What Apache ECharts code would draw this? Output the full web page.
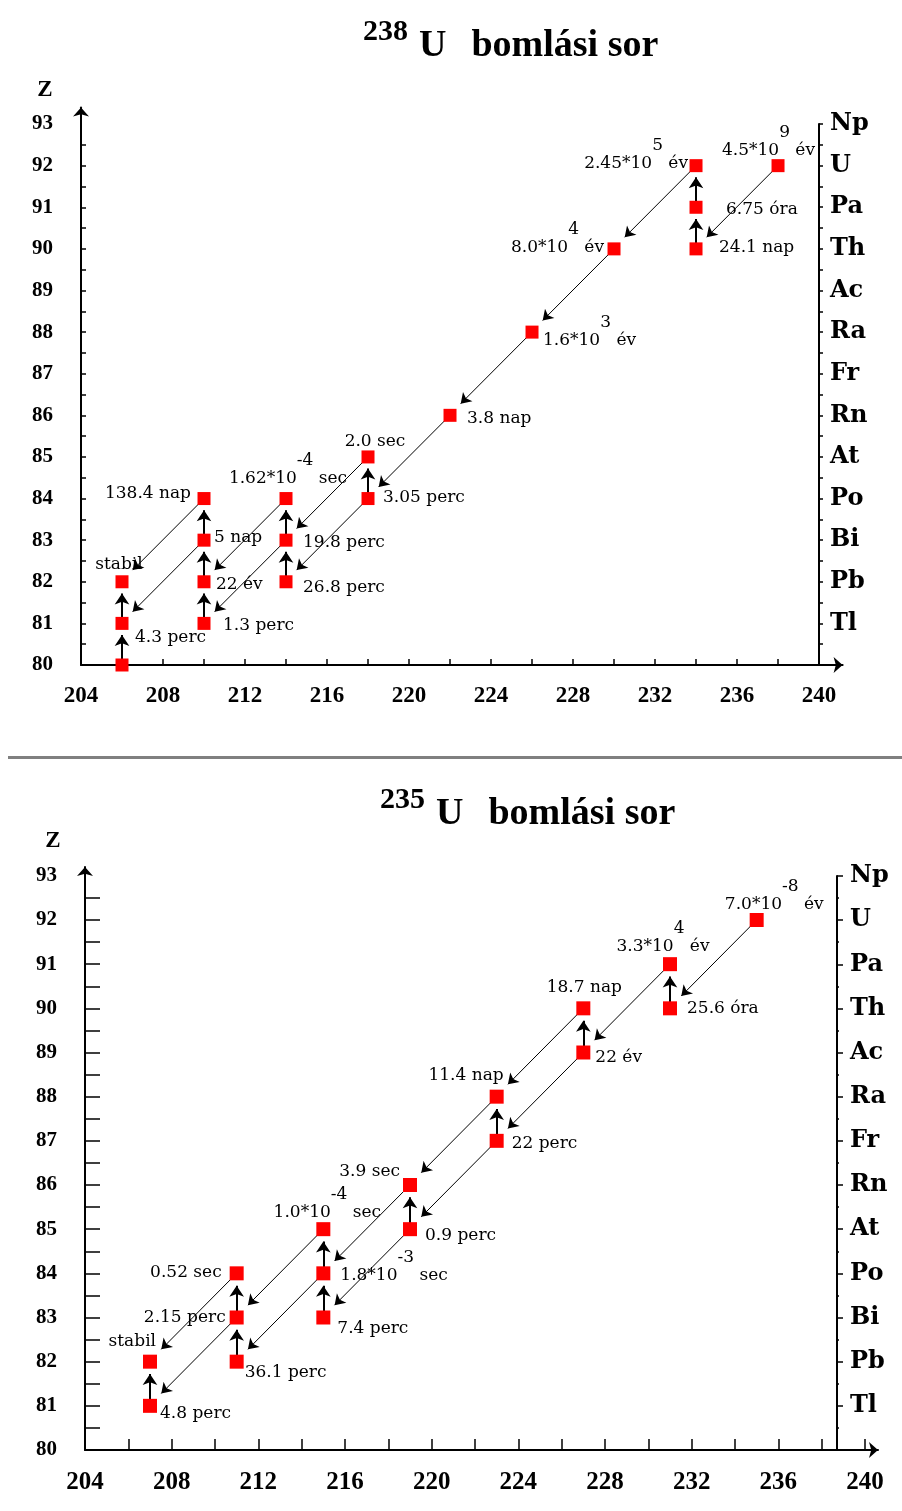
<!DOCTYPE html>
<html>
<head>
<meta charset="utf-8">
<title>Uránium bomlási sorok</title>
<script src="https://cdn.jsdelivr.net/npm/echarts@6/dist/echarts.min.js"></script>
<style>
  html, body { margin: 0; padding: 0; background: #fff; }
  #chart { width: 902px; height: 1511px; }
</style>
</head>
<body>
<div id="chart"></div>
<script>
// 238U bomlási sor
const u238Names = ['U238', 'Th234', 'Pa234', 'U234', 'Th230', 'Ra226', 'Rn222', 'Po218', 'At218', 'Pb214', 'Bi214', 'Po214', 'Tl210', 'Pb210', 'Bi210', 'Po210', 'Hg206', 'Tl206', 'Pb206'];
const u238Mass = [238, 234, 234, 234, 230, 226, 222, 218, 218, 214, 214, 214, 210, 210, 210, 210, 206, 206, 206];
const u238Z = [92, 90, 91, 92, 90, 88, 86, 84, 85, 82, 83, 84, 81, 82, 83, 84, 80, 81, 82];
const u238HalfLife = ['4.5*10^9 év', '24.1 nap', '6.75 óra', '2.45*10^5 év', '8.0*10^4 év', '1.6*10^3 év', '3.8 nap', '3.05 perc', '2.0 sec', '26.8 perc', '19.8 perc', '1.62*10^-4 sec', '1.3 perc', '22 év', '5 nap', '138.4 nap', '', '4.3 perc', 'stabil'];
const u238Alpha = [['U238', 'Th234'], ['U234', 'Th230'], ['Th230', 'Ra226'], ['Ra226', 'Rn222'], ['Rn222', 'Po218'], ['Po218', 'Pb214'], ['At218', 'Bi214'], ['Bi214', 'Tl210'], ['Po214', 'Pb210'], ['Bi210', 'Tl206'], ['Po210', 'Pb206']];
const u238Beta = [['Th234', 'Pa234'], ['Pa234', 'U234'], ['Po218', 'At218'], ['Pb214', 'Bi214'], ['Bi214', 'Po214'], ['Tl210', 'Pb210'], ['Pb210', 'Bi210'], ['Bi210', 'Po210'], ['Hg206', 'Tl206'], ['Tl206', 'Pb206']];

// 235U bomlási sor
const u235Names = ['U235', 'Th231', 'Pa231', 'Ac227', 'Th227', 'Ra223', 'Fr223', 'Rn219', 'At219', 'At215', 'Po215', 'Bi215', 'Po211', 'Bi211', 'Pb211', 'Pb207', 'Tl207'];
const u235Mass = [235, 231, 231, 227, 227, 223, 223, 219, 219, 215, 215, 215, 211, 211, 211, 207, 207];
const u235Z = [92, 90, 91, 89, 90, 88, 87, 86, 85, 85, 84, 83, 84, 83, 82, 82, 81];
const u235HalfLife = ['7.0*10^-8 év', '25.6 óra', '3.3*10^4 év', '22 év', '18.7 nap', '11.4 nap', '22 perc', '3.9 sec', '0.9 perc', '1.0*10^-4 sec', '1.8*10^-3 sec', '7.4 perc', '0.52 sec', '2.15 perc', '36.1 perc', 'stabil', '4.8 perc'];
const u235Alpha = [['U235', 'Th231'], ['Pa231', 'Ac227'], ['Th227', 'Ra223'], ['Ac227', 'Fr223'], ['Ra223', 'Rn219'], ['Fr223', 'At219'], ['Rn219', 'Po215'], ['At219', 'Bi215'], ['At215', 'Bi211'], ['Po215', 'Pb211'], ['Po211', 'Pb207'], ['Bi211', 'Tl207']];
const u235Beta = [['Th231', 'Pa231'], ['Ac227', 'Th227'], ['Fr223', 'Ra223'], ['At219', 'Rn219'], ['Bi215', 'Po215'], ['Po215', 'At215'], ['Pb211', 'Bi211'], ['Bi211', 'Po211'], ['Tl207', 'Pb207']];

// tengelyek
const elementZ = [81, 82, 83, 84, 85, 86, 87, 88, 89, 90, 91, 92, 93];
const elementSymbols = ['Tl', 'Pb', 'Bi', 'Po', 'At', 'Rn', 'Fr', 'Ra', 'Ac', 'Th', 'Pa', 'U', 'Np'];
const zLabels = [80, 81, 82, 83, 84, 85, 86, 87, 88, 89, 90, 91, 92, 93];
const massLabels = [204, 208, 212, 216, 220, 224, 228, 232, 236, 240];

// címkék elhelyezése (igazítás, eltolás px-ben a négyzet közepéhez)
const u238LabelAlign = ['right', 'left', 'left', 'right', 'right', 'left', 'left', 'left', 'center', 'left', 'left', 'center', 'left', 'left', 'left', 'right', 'left', 'left', 'center'];
const u238LabelOffset = [[37, -16], [23, -2], [30, 2], [-8, -3], [-10, -2], [11, 8], [17, 3], [15, -1], [7, -16], [17, 5], [17, 2], [2, -20], [19, 2], [12, 2], [10, -3], [-13, -5], [0, 0], [13, 14], [-3, -18]];
const u235LabelAlign = ['right', 'left', 'center', 'left', 'center', 'right', 'left', 'right', 'left', 'center', 'left', 'left', 'right', 'right', 'left', 'right', 'left'];
const u235LabelOffset = [[67, -16], [17, 0], [-7, -18], [12, 5], [1, -21], [7, -22], [15, 2], [-10, -14], [15, 6], [4, -17], [17, 2], [14, 11], [-15, -1], [-11, 0], [8, 10], [6, -21], [10, 7]];

const black = '#000';
const tickFont = { fontFamily: 'Liberation Serif', fontWeight: 'bold', fontSize: 21, color: black };
const labelRich = {
    m: { fontFamily: 'DejaVu Serif', fontSize: 17, color: black, lineHeight: 20, verticalAlign: 'bottom' },
    s: { fontFamily: 'DejaVu Serif', fontSize: 17, color: black, lineHeight: 35, verticalAlign: 'top' }
};
const titleRich = {
    s: { fontFamily: 'Liberation Serif', fontSize: 30, color: black, lineHeight: 48, verticalAlign: 'top', padding: [0, 11, 0, 0] },
    u: { fontFamily: 'Liberation Serif', fontWeight: 'bold', fontSize: 38, color: black, lineHeight: 40, verticalAlign: 'bottom', padding: [0, 25, 0, 0] },
    m: { fontFamily: 'Liberation Serif', fontWeight: 'bold', fontSize: 38, color: black, lineHeight: 40, verticalAlign: 'bottom' }
};

// "1.62*10^-4 sec" -> felső index
function richText(s) {
    const i = s.indexOf('^');
    if (i < 0) return '{m|' + s + '}';
    const rest = s.slice(i + 1);
    const sp = rest.indexOf(' ');
    return '{m|' + s.slice(0, i) + '}{s|' + rest.slice(0, sp) + '}{m|' + rest.slice(sp) + '}';
}

function range(a, b, step) {
    const out = [];
    for (let v = a; v <= b + 1e-9; v += step) out.push(Math.round(v * 10) / 10);
    return out;
}

// a nyíl hegye a cél négyzet széléig ér
function arrowCoords(from, to, trimEnd) {
    const sa = Math.sign(to[0] - from[0]);
    const sz = Math.sign(to[1] - from[1]);
    return [from, [to[0] - sa * trimEnd[0], to[1] - sz * trimEnd[1]]];
}

function buildSeries(gi, names, mass, z, halfLife, alpha, beta, align, offset, size) {
    const pos = {};
    names.forEach((n, i) => { pos[n] = [mass[i], z[i]]; });
    const points = names.map((n, i) => ({
        value: [mass[i], z[i]],
        label: {
            show: halfLife[i] !== '',
            position: 'inside',
            color: black,
            textBorderWidth: 0,
            align: align[i],
            verticalAlign: 'bottom',
            offset: [offset[i][0], offset[i][1] + 9],
            formatter: richText(halfLife[i]),
            rich: labelRich
        }
    }));
    return [{
        type: 'lines',
        coordinateSystem: 'cartesian2d',
        xAxisIndex: gi, yAxisIndex: gi,
        silent: true,
        z: 2,
        symbol: ['none', 'arrow'],
        symbolSize: 10,
        lineStyle: { color: black, width: 1, opacity: 1, curveness: 0 },
        data: alpha.map(d => ({ coords: arrowCoords(pos[d[0]], pos[d[1]], [0.52, 0.28]) }))
    }, {
        type: 'lines',
        coordinateSystem: 'cartesian2d',
        xAxisIndex: gi, yAxisIndex: gi,
        silent: true,
        z: 2,
        symbol: ['none', 'arrow'],
        symbolSize: 11,
        lineStyle: { color: black, width: 2, opacity: 1, curveness: 0 },
        data: beta.map(d => ({ coords: arrowCoords(pos[d[0]], pos[d[1]], [0, 0.28]) }))
    }, {
        type: 'scatter',
        xAxisIndex: gi, yAxisIndex: gi,
        symbol: 'rect',
        symbolSize: size,
        z: 3,
        silent: true,
        itemStyle: { color: '#ff0000', opacity: 1 },
        emphasis: { disabled: true },
        data: points
    }];
}

function mainXAxis(gi, max, ticks, tickLen, fontSize, margin) {
    return {
        gridIndex: gi, type: 'value', min: 204, max: max, interval: 2,
        axisLine: { show: true, onZero: false, symbol: ['none', 'arrow'], symbolSize: [12, 9], lineStyle: { color: black, width: 2 } },
        axisTick: { show: true, inside: true, length: tickLen, customValues: ticks, lineStyle: { color: black, width: 1.5 } },
        axisLabel: Object.assign({}, tickFont, { fontSize: fontSize, customValues: massLabels, margin: margin, formatter: v => (v % 4 === 0 && v <= 240) ? String(v) : '' }),
        splitLine: { show: false }
    };
}

function mainYAxis(gi, max, tickLen, nameGap, namePad) {
    return {
        gridIndex: gi, type: 'value', min: 80, max: max, interval: 0.5, position: 'left',
        name: 'Z', nameLocation: 'end', nameGap: nameGap,
        nameTextStyle: Object.assign({}, tickFont, { fontSize: 23, padding: [0, namePad, 0, 0], align: 'center' }),
        axisLine: { show: true, onZero: false, symbol: ['none', 'arrow'], symbolSize: [12, 9], lineStyle: { color: black, width: 2 } },
        axisTick: { show: true, inside: true, length: tickLen, customValues: range(80.5, 92.5, 0.5), lineStyle: { color: black, width: 1.5 } },
        axisLabel: Object.assign({ customValues: zLabels, margin: 28, formatter: v => (Number.isInteger(v) && v <= 93) ? String(v) : '' }, tickFont),
        splitLine: { show: false }
    };
}

function elementAxis(gi, interval, tickLen, minor, margin) {
    return {
        gridIndex: gi, type: 'value', min: 80, max: 93, interval: interval, position: 'right',
        axisLine: { show: true, onZero: false, lineStyle: { color: black, width: 2 } },
        axisTick: { show: true, inside: false, length: tickLen, lineStyle: { color: black, width: 1.5 } },
        minorTick: { show: minor, splitNumber: 2, length: 2, lineStyle: { color: black, width: 1.5 } },
        axisLabel: {
            margin: margin, fontFamily: 'DejaVu Serif', fontWeight: 'bold', fontSize: 24, color: black,
            formatter: v => { const k = elementZ.indexOf(v); return k < 0 ? '' : elementSymbols[k]; }
        },
        splitLine: { show: false },
        minorSplitLine: { show: false }
    };
}

const chart = echarts.init(document.getElementById('chart'));

chart.setOption({
    animation: false,
    backgroundColor: '#fff',
    title: [
        { text: '{s|238}{u|U}{m|bomlási sor}', left: 363, top: 17, padding: 0, textStyle: { rich: titleRich } },
        { text: '{s|235}{u|U}{m|bomlási sor}', left: 380, top: 785, padding: 0, textStyle: { rich: titleRich } }
    ],
    graphic: [
        { type: 'rect', silent: true, shape: { x: 8, y: 756, width: 894, height: 3 }, style: { fill: '#808080' } }
    ],
    grid: [
        { left: 81, right: 59.4, top: 107.4, bottom: 846 },
        { left: 81, right: 83, top: 124, bottom: 846 },
        { left: 85, right: 24, top: 867, bottom: 61 },
        { left: 85, right: 65, top: 876, bottom: 61 }
    ],
    xAxis: [
        mainXAxis(0, 241.15, range(206, 238, 2), 6, 23, 20),
        { gridIndex: 1, type: 'value', min: 204, max: 240, show: false },
        mainXAxis(2, 240.6, range(206, 240, 2), 11, 25, 20),
        { gridIndex: 3, type: 'value', min: 204, max: 238.7, show: false }
    ],
    yAxis: [
        mainYAxis(0, 93.4, 5, 6, 72),
        elementAxis(1, 0.5, 4, false, 11),
        mainYAxis(2, 93.2, 15, 14, 64),
        elementAxis(3, 1, 6, true, 13)
    ],
    series: [].concat(
        buildSeries(0, u238Names, u238Mass, u238Z, u238HalfLife, u238Alpha, u238Beta, u238LabelAlign, u238LabelOffset, 13),
        buildSeries(2, u235Names, u235Mass, u235Z, u235HalfLife, u235Alpha, u235Beta, u235LabelAlign, u235LabelOffset, 14)
    )
});
</script>
</body>
</html>
